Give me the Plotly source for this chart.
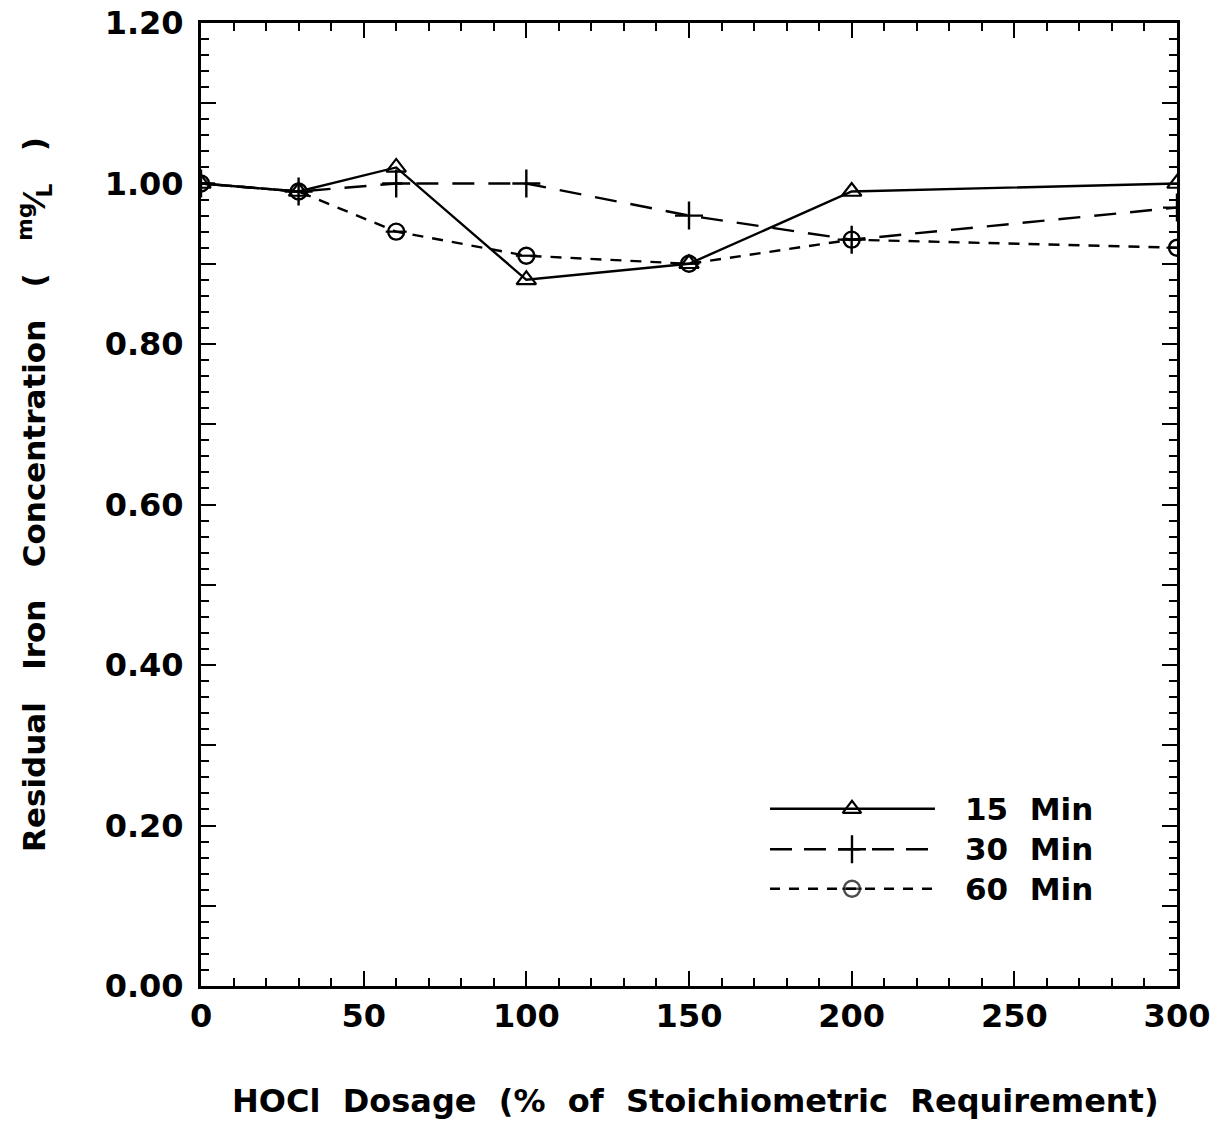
import plotly.graph_objects as go

dosage = [0, 30, 60, 100, 150, 200, 300]
min15 = [1.00, 0.99, 1.02, 0.88, 0.90, 0.99, 1.00]
min30 = [1.00, 0.99, 1.00, 1.00, 0.96, 0.93, 0.97]
min60 = [1.00, 0.99, 0.94, 0.91, 0.90, 0.93, 0.92]
series_names = ["15 Min", "30 Min", "60 Min"]

y_tickvals = [0.0, 0.1, 0.2, 0.3, 0.4, 0.5, 0.6, 0.7, 0.8, 0.9, 1.0, 1.1, 1.2]
y_ticktext = ["0.00", "", "0.20", "", "0.40", "", "0.60", "", "0.80", "", "1.00", "", "1.20"]

FONT = "DejaVu Sans"
BLACK = "#000000"

fig = go.Figure()

# 15 Min
fig.add_trace(go.Scatter(x=dosage, y=min15, mode="lines+markers", name=series_names[0],
                         line=dict(color=BLACK, width=2.4, dash="solid"),
                         marker=dict(symbol="triangle-up-open", size=17, color=BLACK, line=dict(width=2.2)),
                         showlegend=False))
# 30 Min
fig.add_trace(go.Scatter(x=dosage, y=min30, mode="lines+markers", name=series_names[1],
                         line=dict(color=BLACK, width=2.4, dash="22px,14px"),
                         marker=dict(symbol="cross-thin-open", size=20, color=BLACK, line=dict(width=2.4)),
                         showlegend=False))
# 60 Min
fig.add_trace(go.Scatter(x=dosage, y=min60, mode="lines+markers", name=series_names[2],
                         line=dict(color=BLACK, width=2.4, dash="11px,9px"),
                         marker=dict(symbol="circle-open", size=16, color=BLACK, line=dict(width=2.4)),
                         showlegend=False))
fig.add_trace(go.Scatter(x=dosage, y=min60, mode="markers", showlegend=False,
                         marker=dict(symbol="line-ew-open", size=15, color=BLACK, line=dict(width=2.2, color=BLACK)),
                         hoverinfo="skip"))

# Custom legend (hidden overlay axes in paper-like units)
leg_x0, leg_x1, leg_xm = 0.583, 0.752, 0.667
leg_ys = [0.184, 0.142, 0.101]
dashes = ["solid", "22px,12px", "10px,9px"]
for yy, dsh in zip(leg_ys, dashes):
    fig.add_shape(type="line", xref="paper", yref="paper", x0=leg_x0, x1=leg_x1, y0=yy, y1=yy,
                  line=dict(color=BLACK, width=2.4, dash=dsh))
fig.add_trace(go.Scatter(x=[leg_xm], y=[leg_ys[0]], xaxis="x2", yaxis="y2", mode="markers", showlegend=False,
                         marker=dict(symbol="triangle-up-open", size=16, color=BLACK, line=dict(width=2.2)),
                         hoverinfo="skip"))
fig.add_trace(go.Scatter(x=[leg_xm], y=[leg_ys[1]], xaxis="x2", yaxis="y2", mode="markers", showlegend=False,
                         marker=dict(symbol="cross-thin-open", size=20, color=BLACK, line=dict(width=2.4)),
                         hoverinfo="skip"))
fig.add_trace(go.Scatter(x=[leg_xm, leg_xm], y=[leg_ys[2], leg_ys[2]], xaxis="x2", yaxis="y2", mode="markers",
                         showlegend=False,
                         marker=dict(symbol=["circle-open", "line-ew-open"], size=[16, 14], color=BLACK,
                                     line=dict(width=2.4, color=BLACK)),
                         hoverinfo="skip"))
for yy, nm in zip(leg_ys, series_names):
    fig.add_annotation(xref="paper", yref="paper", x=0.781, y=yy, xanchor="left", yanchor="middle",
                       text=nm.replace(" ", "&nbsp;&nbsp;"), showarrow=False,
                       font=dict(family=FONT, size=31, color=BLACK, weight="bold"))

# Axis titles
fig.add_annotation(xref="paper", yref="paper", x=0.507, y=-0.119, xanchor="center", yanchor="middle",
                   text="HOCl&nbsp;&nbsp;Dosage&nbsp;&nbsp;(%&nbsp;&nbsp;of&nbsp;&nbsp;Stoichiometric&nbsp;&nbsp;Requirement)",
                   showarrow=False, font=dict(family=FONT, size=32, color=BLACK, weight="bold"))
fig.add_annotation(xref="paper", yref="paper", x=-0.170, y=0.51, xanchor="center", yanchor="middle",
                   textangle=-90,
                   text="Residual&nbsp;&nbsp;&nbsp;Iron&nbsp;&nbsp;&nbsp;Concentration&nbsp;&nbsp;&nbsp;(&nbsp;&nbsp;&nbsp;<sup>mg</sup>&#8260;<sub>L</sub>&nbsp;&nbsp;&nbsp;)",
                   showarrow=False, font=dict(family=FONT, size=31, color=BLACK, weight="bold"))

fig.update_layout(
    width=1220, height=1116,
    margin=dict(l=193, r=51, t=15, b=138, autoexpand=False),
    paper_bgcolor="white", plot_bgcolor="white",
    showlegend=False,
    xaxis=dict(range=[0, 300], tickvals=[0, 50, 100, 150, 200, 250, 300],
               ticks="inside", ticklen=15, tickwidth=2, tickcolor=BLACK,
               minor=dict(dtick=10, ticks="inside", ticklen=8, tickwidth=2, tickcolor=BLACK),
               showline=True, linewidth=3, linecolor=BLACK, mirror="allticks",
               showgrid=False, zeroline=False, automargin=False, ticklabeloverflow="allow",
               tickfont=dict(family=FONT, size=32, color=BLACK, weight="bold")),
    yaxis=dict(range=[0, 1.2], tickvals=y_tickvals, ticktext=y_ticktext,
               ticks="inside", ticklen=15, tickwidth=2, tickcolor=BLACK,
               minor=dict(dtick=0.02, ticks="inside", ticklen=8, tickwidth=2, tickcolor=BLACK),
               showline=True, linewidth=3, linecolor=BLACK, mirror="allticks",
               showgrid=False, zeroline=False, automargin=False, ticklabeloverflow="allow",
               ticklabelstandoff=8,
               tickfont=dict(family=FONT, size=32, color=BLACK, weight="bold")),
    xaxis2=dict(overlaying="x", range=[0, 1], visible=False),
    yaxis2=dict(overlaying="y", range=[0, 1], visible=False),
)

fig.write_html("out.html")
